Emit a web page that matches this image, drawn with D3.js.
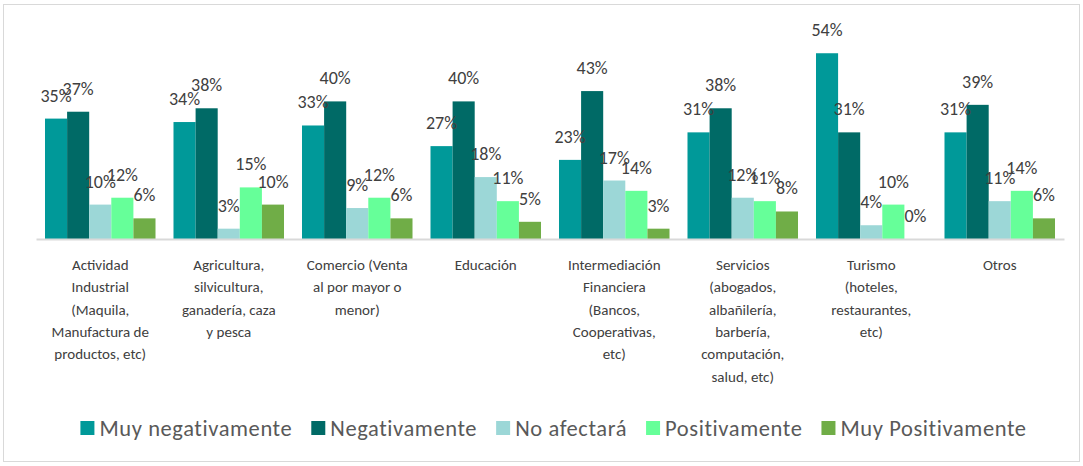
<!DOCTYPE html>
<html>
<head>
<meta charset="utf-8">
<script src="https://cdn.jsdelivr.net/npm/d3@7"></script>
<style>
  body { margin: 0; background: #fff; }
  text { font-family: Calibri, Carlito, Lato, sans-serif; }
</style>
</head>
<body>
<script>
// categories (tick labels, already broken into lines as in the source)
const categories = [
    ["Actividad", "Industrial", "(Maquila,", "Manufactura de", "productos, etc)"],
    ["Agricultura,", "silvicultura,", "ganadería, caza", "y pesca"],
    ["Comercio (Venta", "al por mayor o", "menor)"],
    ["Educación"],
    ["Intermediación", "Financiera", "(Bancos,", "Cooperativas,", "etc)"],
    ["Servicios", "(abogados,", "albañilería,", "barbería,", "computación,", "salud, etc)"],
    ["Turismo", "(hoteles,", "restaurantes,", "etc)"],
    ["Otros"]
];

const seriesNames = ["Muy negativamente", "Negativamente", "No afectará", "Positivamente", "Muy Positivamente"];

// values in %, one array per series
const muyNegativamente = [35, 34, 33, 27, 23, 31, 54, 31];
const negativamente    = [37, 38, 40, 40, 43, 38, 31, 39];
const noAfectara       = [10, 3, 9, 18, 17, 12, 4, 11];
const positivamente    = [12, 15, 12, 11, 14, 11, 10, 14];
const muyPositivamente = [6, 10, 6, 5, 3, 8, 0, 6];

const colors = ["#009999", "#006A66", "#9CD7D7", "#66FF99", "#70AD47"];

const series = [muyNegativamente, negativamente, noAfectara, positivamente, muyPositivamente];
const catKeys = categories.map(c => c.join(" "));

const W = 1083, H = 466;
const svg = d3.select('body').append('svg')
    .attr('width', W)
    .attr('height', H);

// chart frame
svg.append('rect')
    .attr('x', 3.5).attr('y', 4.5)
    .attr('width', W - 7).attr('height', H - 9)
    .attr('fill', '#fff')
    .attr('stroke', '#D9D9D9')
    .attr('stroke-width', 1);

const x0 = d3.scaleBand()
    .domain(catKeys)
    .range([36, 1064])
    .paddingInner(0.14)
    .paddingOuter(0.07);

const x1 = d3.scaleBand()
    .domain(d3.range(seriesNames.length))
    .range([0, x0.bandwidth()]);

const baseY = 239;
const y = d3.scaleLinear()
    .domain([0, 60])
    .range([baseY, baseY - 60 * 3.44]);

const groups = svg.selectAll('.group')
    .data(catKeys)
    .enter().append('g')
    .attr('class', 'group')
    .attr('transform', d => `translate(${x0(d)},0)`);

groups.selectAll('rect')
    .data((d, i) => series.map((s, k) => ({ k, v: s[i] })))
    .enter().append('rect')
    .attr('x', d => x1(d.k))
    .attr('y', d => y(d.v))
    .attr('width', x1.bandwidth())
    .attr('height', d => baseY - y(d.v))
    .attr('fill', d => colors[d.k]);

// x axis
const xAxis = svg.append('g')
    .attr('transform', `translate(0,${baseY})`)
    .call(d3.axisBottom(x0).tickSize(0).tickSizeOuter(0));

xAxis.select('.domain')
    .attr('stroke', '#D9D9D9')
    .attr('stroke-width', 2);

xAxis.selectAll('.tick text').remove();
xAxis.selectAll('.tick').each(function (d, i) {
    const t = d3.select(this).append('text')
        .attr('fill', '#404040')
        .attr('font-size', 15)
        .attr('text-anchor', 'middle');
    categories[i].forEach((line, j) => {
        t.append('tspan')
            .attr('x', 0)
            .attr('y', 31 + j * 22.3)
            .text(line);
    });
});

// data labels
groups.selectAll('.lbl')
    .data((d, i) => series.map((s, k) => ({ k, v: s[i] })))
    .enter().append('text')
    .attr('class', 'lbl')
    .attr('x', d => x1(d.k) + x1.bandwidth() / 2)
    .attr('y', d => y(d.v) - 17)
    .attr('text-anchor', 'middle')
    .attr('font-size', 18)
    .attr('fill', '#404040')
    .text(d => d.v + '%');

// legend
const legend = svg.append('g').attr('transform', 'translate(0,428)');
const items = legend.selectAll('g')
    .data(seriesNames)
    .enter().append('g');

items.append('rect')
    .attr('y', -7)
    .attr('width', 14).attr('height', 14)
    .attr('fill', (d, i) => colors[i]);

items.append('text')
    .attr('x', 19)
    .attr('y', 8)
    .attr('font-size', 22.5)
    .attr('letter-spacing', 0.6)
    .attr('fill', '#595959')
    .text(d => d);

let pos = 0;
const gap = 19;
const offsets = [];
items.each(function () {
    offsets.push(pos);
    pos += this.getBBox().width + gap;
});
const total = pos - gap;
const start = 79 + ((1028 - 79) - total) / 2;
items.attr('transform', (d, i) => `translate(${start + offsets[i]},0)`);
</script>
</body>
</html>
